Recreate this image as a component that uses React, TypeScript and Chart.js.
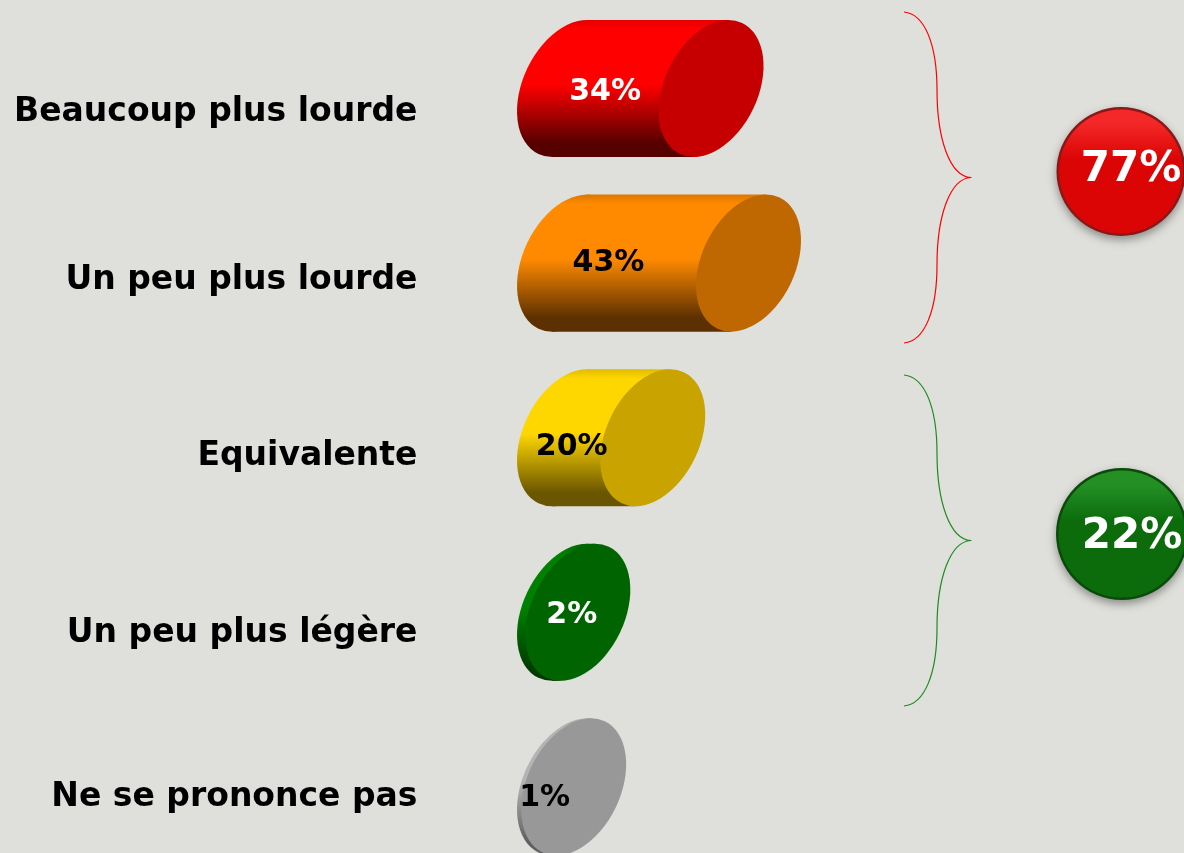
import React, { useEffect, useRef } from "react";
import { Chart, registerables } from "chart.js";

Chart.register(...registerables);

const categories = ["Beaucoup plus lourde", "Un peu plus lourde", "Equivalente", "Un peu plus légère", "Ne se prononce pas"];
const values = [34, 43, 20, 2, 1];
const valueLabelColors = ["#ffffff", "#000000", "#000000", "#ffffff", "#000000"];
const bodyLight = ["#ff0000", "#ff8a00", "#ffd700", "#008000", "#b4b4b4"];
const bodyEdge = ["#e60000", "#dd7700", "#e0bc00", "#006a00", "#a8a8a8"];
const bodyDark = ["#560000", "#5c3000", "#6b5600", "#003c00", "#606060"];
const capColors = ["#c60000", "#bf6700", "#c9a300", "#006400", "#989898"];

const categoryLabelShift = [24, 17, 19, 21, 11];
const valueLabelDx = [-106, -140, -81, -6, -29];
const valueLabelDy = [4, 0, 10, 3, 11];

const groupTotals = ["77%", "22%"];
const groupColors = ["#ff0000", "#1e8c1e"];
const groupBase = ["#dc0505", "#0c6c0c"];
const groupHighlight = ["#f42828", "#249024"];
const groupRim = ["#8a1818", "#0a4a0a"];
const braceTop = [12, 375];
const braceBottom = [343, 706];
const badgeCenterX = [1121, 1122];
const badgeCenterY = [171.5, 534];
const badgeRadius = [64.5, 66];
const badgeLabelDy = [-1, 3];

const FONT = '"DejaVu Sans", Verdana, sans-serif';
const BG = "#dfe0db";

function capShape(barHeight: number) {
  const hy = barHeight / 2;
  const hx = hy * 0.766;
  const c = hx * hy * 0.33;
  const xx = hx * hx, yy = hy * hy, xy = -c;
  const theta = 0.5 * Math.atan2(2 * xy, xx - yy);
  const mean = (xx + yy) / 2;
  const r = Math.sqrt(((xx - yy) / 2) ** 2 + xy * xy);
  return { rx: Math.sqrt(mean + r), ry: Math.sqrt(mean - r), theta, tangent: c / hy, hy };
}

const cylinderPlugin = {
  id: "cylinders",
  beforeDraw(chart: any) {
    const yScale = chart.scales.y;
    yScale.getLabelItems().forEach((item: any, i: number) => {
      item.options.translation[1] = yScale.getPixelForTick(i) + categoryLabelShift[i];
    });
  },
  afterDatasetsDraw(chart: any) {
    const ctx = chart.ctx as CanvasRenderingContext2D;
    const x0 = chart.scales.x.getPixelForValue(0);
    chart.getDatasetMeta(0).data.forEach((bar: any, i: number) => {
      const { x, y, height } = bar.getProps(["x", "y", "height"], true);
      const top = y - height / 2;
      const s = capShape(height);
      const g = ctx.createLinearGradient(0, top, 0, top + height);
      g.addColorStop(0, bodyEdge[i]);
      g.addColorStop(0.07, bodyLight[i]);
      g.addColorStop(0.47, bodyLight[i]);
      g.addColorStop(0.9, bodyDark[i]);
      g.addColorStop(1, bodyDark[i]);
      ctx.save();
      ctx.fillStyle = g;
      ctx.beginPath();
      ctx.ellipse(x0, y, s.rx, s.ry, s.theta, 0, Math.PI * 2);
      ctx.fill();
      ctx.beginPath();
      ctx.moveTo(x0 + s.tangent, y - s.hy);
      ctx.lineTo(x + s.tangent, y - s.hy);
      ctx.lineTo(x - s.tangent, y + s.hy);
      ctx.lineTo(x0 - s.tangent, y + s.hy);
      ctx.closePath();
      ctx.fill();
      ctx.fillStyle = capColors[i];
      ctx.beginPath();
      ctx.ellipse(x, y, s.rx, s.ry, s.theta, 0, Math.PI * 2);
      ctx.fill();
      ctx.fillStyle = valueLabelColors[i];
      ctx.font = `bold 30px ${FONT}`;
      ctx.textAlign = "center";
      ctx.textBaseline = "middle";
      ctx.fillText(`${values[i]}%`, x + valueLabelDx[i], y + valueLabelDy[i]);
      ctx.restore();
    });

    groupTotals.forEach((label, i) => {
      const t = braceTop[i], b = braceBottom[i], m = (t + b) / 2;
      ctx.save();
      ctx.strokeStyle = groupColors[i];
      ctx.lineWidth = 1.2;
      ctx.lineJoin = "round";
      ctx.beginPath();
      ctx.moveTo(904, t);
      ctx.bezierCurveTo(925, t + 2, 937, t + 33, 937, t + 78);
      ctx.bezierCurveTo(937, m - 38, 950, m - 1, 971, m);
      ctx.bezierCurveTo(950, m + 1, 937, m + 38, 937, b - 78);
      ctx.bezierCurveTo(937, b - 33, 925, b - 2, 904, b);
      ctx.stroke();

      const cx = badgeCenterX[i], cy = badgeCenterY[i], r = badgeRadius[i];
      ctx.shadowColor = "rgba(60,60,60,0.5)";
      ctx.shadowBlur = 8;
      ctx.shadowOffsetY = 4;
      ctx.fillStyle = groupRim[i];
      ctx.beginPath();
      ctx.arc(cx, cy, r, 0, Math.PI * 2);
      ctx.fill();
      ctx.shadowColor = "transparent";
      const g = ctx.createLinearGradient(0, cy - r, 0, cy + r);
      g.addColorStop(0, groupHighlight[i]);
      g.addColorStop(0.12, groupHighlight[i]);
      g.addColorStop(0.4, groupBase[i]);
      g.addColorStop(1, groupBase[i]);
      ctx.fillStyle = g;
      ctx.beginPath();
      ctx.arc(cx, cy, r - 2.5, 0, Math.PI * 2);
      ctx.fill();
      ctx.fillStyle = "#ffffff";
      ctx.font = `bold 42px ${FONT}`;
      ctx.textAlign = "center";
      ctx.textBaseline = "middle";
      ctx.fillText(label, cx + 10, cy + badgeLabelDy[i]);
      ctx.restore();
    });
  },
};

export default function App() {
  const ref = useRef<HTMLCanvasElement>(null);
  useEffect(() => {
    document.body.style.margin = "0";
    document.body.style.background = BG;
    const chart = new Chart(ref.current!, {
      type: "bar",
      data: {
        labels: categories,
        datasets: [{
          data: values,
          backgroundColor: "transparent",
          borderWidth: 0,
          barPercentage: 0.785,
          categoryPercentage: 1,
        }],
      },
      options: {
        indexAxis: "y",
        animation: false,
        responsive: false,
        events: [],
        layout: { padding: { top: 1.2, right: 198.2, bottom: 0.8, left: 0 } },
        plugins: { legend: { display: false }, tooltip: { enabled: false }, title: { display: false } },
        scales: {
          x: { min: 0, max: 100, display: false },
          y: {
            grid: { display: false, drawTicks: false },
            border: { display: false },
            afterFit: (scale: any) => {
              scale.width = 569.5;
              scale.paddingTop = 0;
              scale.paddingBottom = 0;
            },
            ticks: {
              autoSkip: false,
              padding: 152,
              color: "#000000",
              font: { family: FONT, size: 33, weight: "bold" },
            },
          },
        },
      },
      plugins: [cylinderPlugin],
    } as any);
    return () => chart.destroy();
  }, []);
  return (
    <div style={{ position: "fixed", left: 0, top: 0, width: 1184, height: 853, overflow: "hidden", background: BG }}>
      <canvas ref={ref} width={1184} height={875} style={{ display: "block" }} />
    </div>
  );
}
